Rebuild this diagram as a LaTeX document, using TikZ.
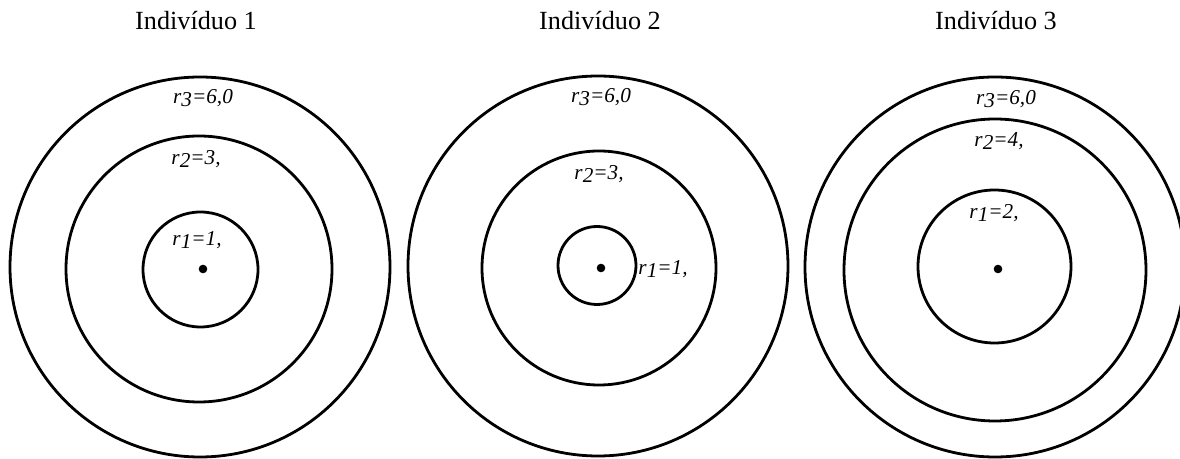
\documentclass[tikz,border=0pt]{standalone}
\usepackage{fontspec}
\setmainfont{Liberation Serif}
\newcommand\rlabel[2]{\textit{r}\raisebox{-0.25ex}{\textit{#1}}\textit{#2}}
\begin{document}
\begin{tikzpicture}[x=0.5pt,y=-0.5pt,
 ring/.style={line width=1.4pt},
 ttl/.style={font=\fontsize{13.1}{15}\selectfont, inner sep=0, anchor=base},
 lbl/.style={font=\fontsize{10.6}{12}\selectfont, inner sep=0, anchor=base},
 dotn/.style={circle, fill, inner sep=0, minimum size=4.3pt}]
\useasboundingbox (0,0) rectangle (1180,459);
\clip (0,0) rectangle (1180,459);
% titles
\node[ttl] (t1) at (196,30) {Indivíduo 1};
\node[ttl] (t2) at (600,30) {Indivíduo 2};
\node[ttl] (t3) at (996,30) {Indivíduo 3};
% individual 1
\draw[ring] (200,267) circle[radius=190];
\draw[ring] (199,269) circle[radius=133];
\draw[ring] (200.5,269.5) circle[radius=57.5];
\node[dotn] (d1) at (203,269) {};
\node[lbl] (a3) at (203,104) {\rlabel{3}{=6,0}};
\node[lbl] (a2) at (196,165) {\rlabel{2}{=3,}};
\node[lbl] (a1) at (197,246) {\rlabel{1}{=1,}};
% individual 2
\draw[ring] (598,266) circle[radius=190];
\draw[ring] (599,268) circle[radius=117];
\draw[ring] (597,265.5) circle[radius=39];
\node[dotn] (d2) at (601,268) {};
\node[lbl] (b3) at (601,103) {\rlabel{3}{=6,0}};
\node[lbl] (b2) at (599,180) {\rlabel{2}{=3,}};
\node[lbl] (b1) at (663,275) {\rlabel{1}{=1,}};
% individual 3
\draw[ring] (995,267) circle[radius=190];
\draw[ring] (995,270) circle[radius=151];
\draw[ring] (994.5,266.5) circle[radius=76.5];
\node[dotn] (d3) at (998,269) {};
\node[lbl] (c3) at (1006,105) {\rlabel{3}{=6,0}};
\node[lbl] (c2) at (999,147) {\rlabel{2}{=4,}};
\node[lbl] (c1) at (994,219) {\rlabel{1}{=2,}};
\end{tikzpicture}
\end{document}
